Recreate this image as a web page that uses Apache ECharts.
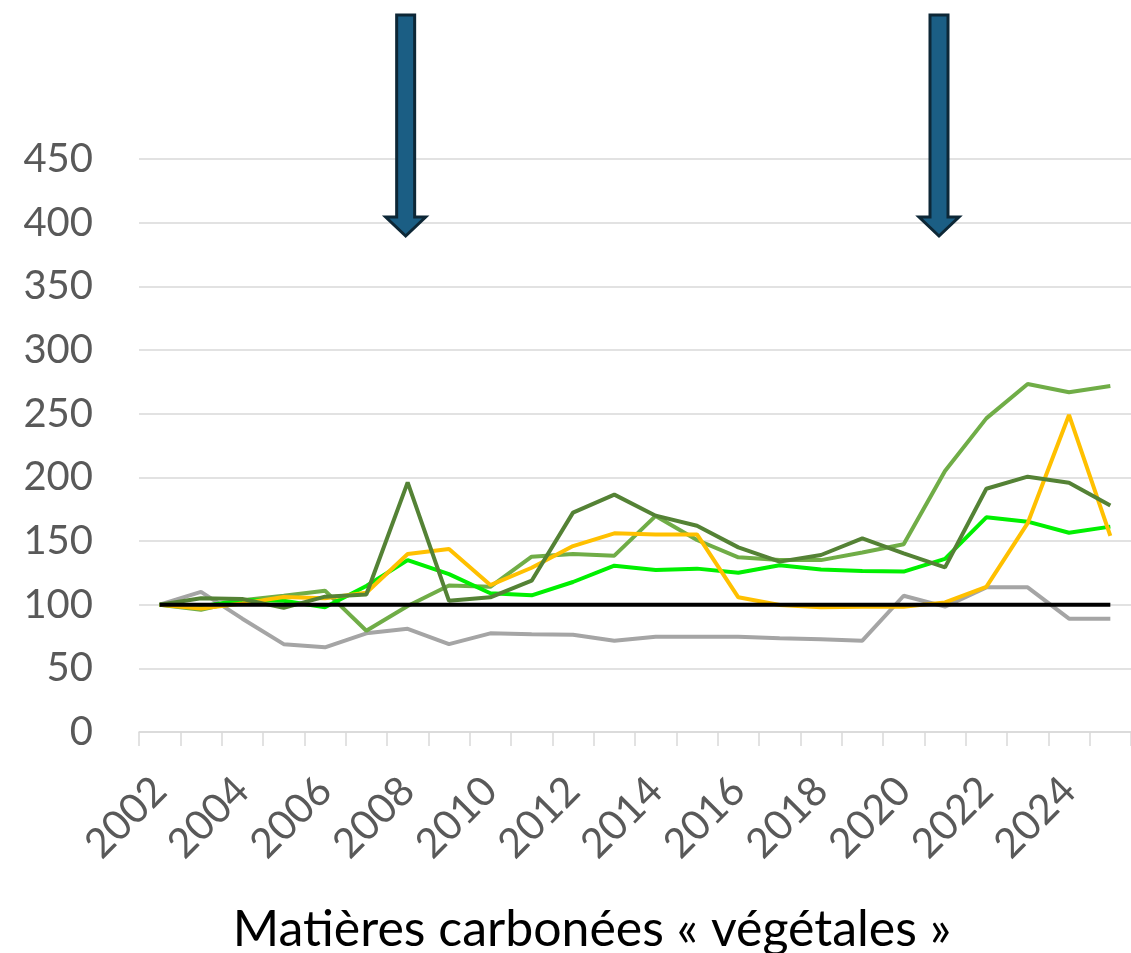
<!DOCTYPE html>
<html>
<head>
<meta charset="utf-8">
<script src="https://cdn.jsdelivr.net/npm/echarts@6/dist/echarts.min.js"></script>
<style>
  html, body { margin: 0; padding: 0; background: #fff; }
  #chart { width: 1131px; height: 953px; }
</style>
</head>
<body>
<div id="chart"></div>
<script>
const years = ['2002', '2003', '2004', '2005', '2006', '2007', '2008', '2009', '2010', '2011', '2012', '2013',
  '2014', '2015', '2016', '2017', '2018', '2019', '2020', '2021', '2022', '2023', '2024', '2025'];

const grayValues = [100, 110, 89, 69, 66.5, 77.5, 81, 69, 77.5, 76.7, 76.3, 71.7,
  74.8, 74.8, 74.8, 73.6, 72.8, 71.7, 107, 98.5, 113.6, 113.6, 89, 89];
const oliveValues = [100, 96, 103.5, 107, 111, 79.5, 99, 115, 114, 137.7, 139.8, 138.5,
  169.7, 150.8, 137.2, 135, 135, 141, 147.4, 205, 246.3, 273.3, 266.8, 271.7];
const brightGreenValues = [100, 98.5, 103.7, 103, 98, 114.7, 135, 124, 109, 107.3, 117.8, 130.6,
  127.2, 128.3, 125, 131, 127.7, 126.4, 126, 136, 168.6, 165.2, 156.5, 161.3];
const yellowValues = [100, 97, 101, 106, 105, 109.4, 139.8, 143.7, 115.4, 129, 146, 156,
  155.2, 155.2, 105.8, 99.7, 98, 98.4, 98.4, 101.8, 114, 164, 249, 154];
const darkGreenValues = [100, 105, 104.5, 97.5, 106.3, 108, 196, 103, 105.8, 118.8, 172.3, 186.4,
  169.9, 162, 145, 133.8, 139, 152, 140.3, 129.3, 191, 200.5, 195.8, 177.8];
const baseValues = years.map(() => 100);

const yTicks = { min: 0, max: 450, interval: 50 };
const arrowYears = ['2008', '2021'];

const chart = echarts.init(document.getElementById('chart'));

const lineSeries = (name, data, color, width) => ({
  name,
  type: 'line',
  data,
  symbol: 'none',
  smooth: false,
  lineStyle: { color, width },
  itemStyle: { color },
  emphasis: { disabled: true },
  animation: false
});

chart.setOption({
  backgroundColor: '#ffffff',
  animation: false,
  grid: { left: 139, top: 159, width: 1003, height: 573, containLabel: false },
  xAxis: {
    type: 'category',
    data: years,
    boundaryGap: true,
    axisLine: { lineStyle: { color: '#D9D9D9', width: 1.5 } },
    axisTick: { show: true, interval: 0, length: 14, lineStyle: { color: '#D9D9D9', width: 1.5 } },
    axisLabel: {
      interval: 1,
      rotate: 45,
      margin: 52,
      fontFamily: 'Lato',
      fontSize: 41,
      color: '#595959'
    },
    splitLine: { show: false }
  },
  yAxis: {
    type: 'value',
    min: yTicks.min,
    max: yTicks.max,
    interval: yTicks.interval,
    axisLine: { show: false },
    axisTick: { show: false },
    axisLabel: { margin: 46, fontFamily: 'Lato', fontSize: 40, color: '#595959' },
    splitLine: { lineStyle: { color: '#D9D9D9', width: 1.5 } }
  },
  series: [
    lineSeries('gris', grayValues, '#A5A5A5', 4),
    lineSeries('vert olive', oliveValues, '#70AD47', 4),
    lineSeries('vert vif', brightGreenValues, '#00F000', 4),
    lineSeries('jaune', yellowValues, '#FFC000', 4),
    lineSeries('vert foncé', darkGreenValues, '#548235', 4),
    lineSeries('base 100', baseValues, '#000000', 4)
  ]
});

// flèches placées au-dessus des années repères
function arrowShape(cx) {
  return {
    type: 'polygon',
    z: 100,
    shape: {
      points: [
        [cx - 9, 15], [cx + 9, 15], [cx + 9, 217], [cx + 20, 217],
        [cx, 236], [cx - 20, 217], [cx - 9, 217]
      ]
    },
    style: { fill: '#1B5E84', stroke: '#0D2736', lineWidth: 3 }
  };
}

const arrowOffsets = [-2, -6];
chart.setOption({
  graphic: [
    ...arrowYears.map((y, i) => arrowShape(chart.convertToPixel({ xAxisIndex: 0 }, y) + arrowOffsets[i])),
    {
      type: 'text',
      z: 100,
      style: {
        text: 'Matières carbonées « végétales »',
        x: 592,
        y: 930,
        textAlign: 'center',
        textVerticalAlign: 'middle',
        fontFamily: 'Lato',
        fontSize: 50,
        fill: '#000000'
      }
    }
  ]
});
</script>
</body>
</html>
